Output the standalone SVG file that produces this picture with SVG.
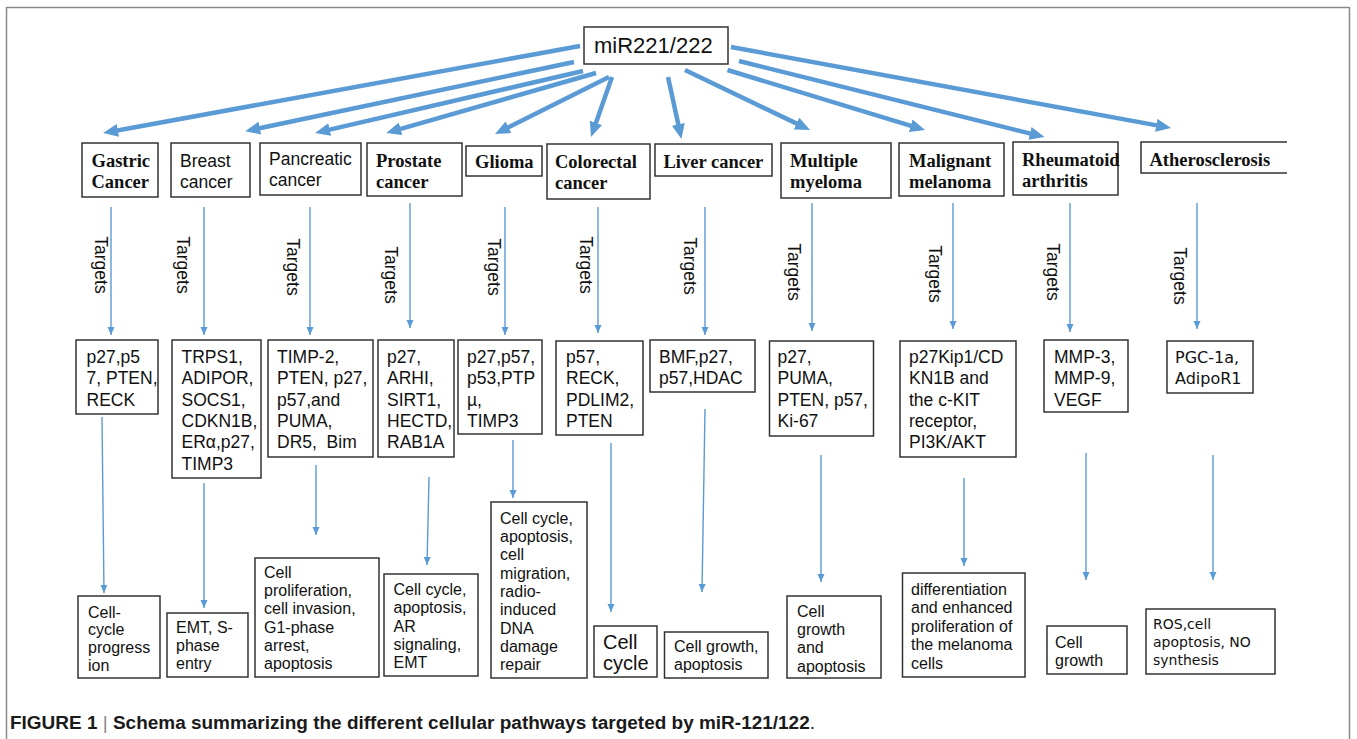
<svg xmlns="http://www.w3.org/2000/svg" width="1357" height="739" viewBox="0 0 1357 739">
<style>
.frame{fill:none;stroke:#8a8a8a;stroke-width:1.5}
.box{fill:#fff;stroke:#333;stroke-width:1.5}
.dis{font-family:"Liberation Serif",serif;font-weight:bold;font-size:18.5px;fill:#111}
.dsans{font-family:"Liberation Sans",Arial,sans-serif;font-size:17.5px;fill:#111}
.root{font-family:"Liberation Sans",Arial,sans-serif;font-size:22px;fill:#111}
.tg{font-family:"Liberation Sans",Arial,sans-serif;font-size:17.5px;fill:#111}
.out{font-family:"Liberation Sans",Arial,sans-serif;font-size:16px;fill:#111}
.big{font-family:"Liberation Sans",Arial,sans-serif;font-size:20px;fill:#111}
.dv{font-family:"DejaVu Sans",sans-serif;fill:#111}
.lbl{font-family:"Liberation Sans",Arial,sans-serif;font-size:17.5px;fill:#111}
.thick{stroke:#5b9bd5;stroke-width:4.5;fill:none;marker-end:url(#hb)}
.thin{stroke:#5b9bd5;stroke-width:1.4;fill:none;marker-end:url(#hs)}
.cap{font-family:"Liberation Sans",Arial,sans-serif;font-weight:bold;font-size:17.5px;fill:#1a1a1a}
</style>
<defs>
<marker id="hb" markerUnits="userSpaceOnUse" markerWidth="16" markerHeight="14" refX="9" refY="6.5" orient="auto">
<path d="M0,0 L15,6.5 L0,13 z" fill="#5b9bd5"/>
</marker>
<marker id="hs" markerUnits="userSpaceOnUse" markerWidth="9" markerHeight="8" refX="8" refY="3.5" orient="auto">
<path d="M0,0 L8,3.5 L0,7 z" fill="#5b9bd5"/>
</marker>
</defs>
<rect width="1357" height="739" fill="#fff"/>
<rect class="frame" x="6.5" y="7.5" width="1343" height="760"/>

<g id="connectors">
<line class="thick" x1="580" y1="46" x2="109" y2="132"/>
<line class="thick" x1="574" y1="62" x2="251" y2="130"/>
<line class="thick" x1="583" y1="71" x2="321" y2="131.6"/>
<line class="thick" x1="596" y1="73" x2="392" y2="131.3"/>
<line class="thick" x1="609" y1="77" x2="500.4" y2="131.3"/>
<line class="thick" x1="612" y1="77" x2="593" y2="131.3"/>
<line class="thick" x1="668" y1="77" x2="680.2" y2="133.1"/>
<line class="thick" x1="685" y1="70" x2="804.6" y2="127.4"/>
<line class="thick" x1="727.5" y1="70" x2="919.3" y2="128.3"/>
<line class="thick" x1="739" y1="61" x2="1038.7" y2="135.6"/>
<line class="thick" x1="731" y1="47" x2="1165.1" y2="126.9"/>

<line class="thin" x1="111" y1="207" x2="111" y2="335"/>
<line class="thin" x1="204" y1="207" x2="204" y2="335"/>
<line class="thin" x1="310" y1="207" x2="310" y2="335"/>
<line class="thin" x1="410" y1="203" x2="410" y2="328"/>
<line class="thin" x1="505" y1="207" x2="505" y2="335"/>
<line class="thin" x1="598" y1="207" x2="598" y2="333"/>
<line class="thin" x1="705" y1="207" x2="705" y2="335"/>
<line class="thin" x1="812" y1="203" x2="812" y2="331"/>
<line class="thin" x1="953" y1="203" x2="953" y2="329"/>
<line class="thin" x1="1070" y1="203" x2="1070" y2="332"/>
<line class="thin" x1="1197" y1="203" x2="1197" y2="329"/>

<line class="thin" x1="102" y1="417" x2="104" y2="593"/>
<line class="thin" x1="204" y1="483" x2="204" y2="608"/>
<line class="thin" x1="316" y1="465" x2="316" y2="535"/>
<line class="thin" x1="429" y1="477" x2="427" y2="565"/>
<line class="thin" x1="513" y1="440" x2="513" y2="498"/>
<line class="thin" x1="611" y1="443" x2="611" y2="612"/>
<line class="thin" x1="705" y1="409" x2="702" y2="592"/>
<line class="thin" x1="821" y1="455" x2="821" y2="582"/>
<line class="thin" x1="964" y1="478" x2="964" y2="566"/>
<line class="thin" x1="1086" y1="453" x2="1086" y2="580"/>
<line class="thin" x1="1213" y1="455" x2="1213" y2="580"/>

<text class="lbl" text-anchor="middle" dominant-baseline="central" transform="translate(101,265) rotate(90)">Targets</text>
<text class="lbl" text-anchor="middle" dominant-baseline="central" transform="translate(183,265) rotate(90)">Targets</text>
<text class="lbl" text-anchor="middle" dominant-baseline="central" transform="translate(293,267) rotate(90)">Targets</text>
<text class="lbl" text-anchor="middle" dominant-baseline="central" transform="translate(391,275) rotate(90)">Targets</text>
<text class="lbl" text-anchor="middle" dominant-baseline="central" transform="translate(494,267) rotate(90)">Targets</text>
<text class="lbl" text-anchor="middle" dominant-baseline="central" transform="translate(586,265) rotate(90)">Targets</text>
<text class="lbl" text-anchor="middle" dominant-baseline="central" transform="translate(690,266) rotate(90)">Targets</text>
<text class="lbl" text-anchor="middle" dominant-baseline="central" transform="translate(794,272) rotate(90)">Targets</text>
<text class="lbl" text-anchor="middle" dominant-baseline="central" transform="translate(935,274) rotate(90)">Targets</text>
<text class="lbl" text-anchor="middle" dominant-baseline="central" transform="translate(1053,272) rotate(90)">Targets</text>
<text class="lbl" text-anchor="middle" dominant-baseline="central" transform="translate(1180,276) rotate(90)">Targets</text>
</g>

<g id="root">
<rect class="box" x="584" y="27" width="144" height="37"/>
<text class="root" x="594" y="53">miR221/222</text>
</g>

<g id="d-gastric">
<rect class="box" x="82" y="143" width="76" height="54"/>
<text class="dis" x="91.5" y="167">Gastric</text>
<text class="dis" x="91.5" y="187.5">Cancer</text>
</g>
<g id="d-breast">
<rect class="box" x="171" y="143" width="79" height="54"/>
<text class="dsans" x="180" y="167">Breast</text>
<text class="dsans" x="180" y="187.5">cancer</text>
</g>
<g id="d-pancreatic">
<rect class="box" x="260" y="143" width="101" height="52"/>
<text class="dsans" x="269" y="165">Pancreatic</text>
<text class="dsans" x="269" y="186">cancer</text>
</g>
<g id="d-prostate">
<rect class="box" x="367" y="143" width="95" height="53"/>
<text class="dis" x="376" y="167">Prostate</text>
<text class="dis" x="376" y="187.5">cancer</text>
</g>
<g id="d-glioma">
<rect class="box" x="466" y="146" width="76" height="30"/>
<text class="dis" x="475" y="168">Glioma</text>
</g>
<g id="d-colorectal">
<rect class="box" x="547" y="144" width="103" height="55"/>
<text class="dis" x="555" y="168">Colorectal</text>
<text class="dis" x="555" y="188.5">cancer</text>
</g>
<g id="d-liver">
<rect class="box" x="655" y="144" width="117" height="32"/>
<text class="dis" x="663.5" y="168">Liver cancer</text>
</g>
<g id="d-myeloma">
<rect class="box" x="781" y="143" width="110" height="55"/>
<text class="dis" x="790" y="166.5">Multiple</text>
<text class="dis" x="790" y="188">myeloma</text>
</g>
<g id="d-melanoma">
<rect class="box" x="899" y="143" width="105" height="53"/>
<text class="dis" x="909" y="167">Malignant</text>
<text class="dis" x="909" y="188">melanoma</text>
</g>
<g id="d-rheumatoid">
<rect class="box" x="1013" y="142" width="105" height="53"/>
<text class="dis" x="1022" y="165.5">Rheumatoid</text>
<text class="dis" x="1022" y="186.5">arthritis</text>
</g>
<g id="d-athero">
<path class="box" d="M1287,142 H1141 V173 H1287" fill="none"/>
<text class="dis" x="1149.5" y="165.5">Atherosclerosis</text>
</g>

<g id="t-gastric">
<rect class="box" x="76" y="340" width="82" height="74"/>
<text class="tg" x="86.5" y="363">p27,p5</text>
<text class="tg" x="86.5" y="384.3">7, PTEN,</text>
<text class="tg" x="86.5" y="405.6">RECK</text>
</g>
<g id="t-breast">
<rect class="box" x="172" y="340" width="89" height="138"/>
<text class="tg" x="181.5" y="363">TRPS1,</text>
<text class="tg" x="181.5" y="384.3">ADIPOR,</text>
<text class="tg" x="181.5" y="405.6">SOCS1,</text>
<text class="tg" x="181.5" y="426.9">CDKN1B,</text>
<text class="tg" x="181.5" y="448.2">ERα,p27,</text>
<text class="tg" x="181.5" y="469.5">TIMP3</text>
</g>
<g id="t-pancreatic">
<rect class="box" x="268" y="340" width="105" height="117"/>
<text class="tg" x="277" y="363">TIMP-2,</text>
<text class="tg" x="277" y="384.3">PTEN, p27,</text>
<text class="tg" x="277" y="405.6">p57,and</text>
<text class="tg" x="277" y="426.9">PUMA,</text>
<text class="tg" x="277" y="448.2" xml:space="preserve">DR5,  Bim</text>
</g>
<g id="t-prostate">
<rect class="box" x="378" y="340" width="76" height="117"/>
<text class="tg" x="387" y="363">p27,</text>
<text class="tg" x="387" y="384.3">ARHI,</text>
<text class="tg" x="387" y="405.6">SIRT1,</text>
<text class="tg" x="387" y="426.9">HECTD,</text>
<text class="tg" x="387" y="448.2">RAB1A</text>
</g>
<g id="t-glioma">
<rect class="box" x="458" y="340" width="84" height="94"/>
<text class="tg" x="467" y="363">p27,p57,</text>
<text class="tg" x="467" y="384.3">p53,PTP</text>
<text class="tg" x="467" y="405.6">µ,</text>
<text class="tg" x="467" y="426.9">TIMP3</text>
</g>
<g id="t-colorectal">
<rect class="box" x="556" y="341" width="87" height="94"/>
<text class="tg" x="566" y="363">p57,</text>
<text class="tg" x="566" y="384.3">RECK,</text>
<text class="tg" x="566" y="405.6">PDLIM2,</text>
<text class="tg" x="566" y="426.9">PTEN</text>
</g>
<g id="t-liver">
<rect class="box" x="650" y="340" width="105" height="52"/>
<text class="tg" x="659" y="362.5">BMF,p27,</text>
<text class="tg" x="659" y="383.8">p57,HDAC</text>
</g>
<g id="t-myeloma">
<rect class="box" x="769.5" y="341" width="104" height="95"/>
<text class="tg" x="777.5" y="363">p27,</text>
<text class="tg" x="777.5" y="384.3">PUMA,</text>
<text class="tg" x="777.5" y="405.6">PTEN, p57,</text>
<text class="tg" x="777.5" y="426.9">Ki-67</text>
</g>
<g id="t-melanoma">
<rect class="box" x="900" y="341" width="116" height="116"/>
<text class="tg" x="909" y="363">p27Kip1/CD</text>
<text class="tg" x="909" y="384.3">KN1B and</text>
<text class="tg" x="909" y="405.6">the c-KIT</text>
<text class="tg" x="909" y="426.9">receptor,</text>
<text class="tg" x="909" y="448.2">PI3K/AKT</text>
</g>
<g id="t-rheumatoid">
<rect class="box" x="1044" y="340" width="84" height="72"/>
<text class="tg" x="1054" y="363">MMP-3,</text>
<text class="tg" x="1054" y="384.3">MMP-9,</text>
<text class="tg" x="1054" y="405.6">VEGF</text>
</g>
<g id="t-athero">
<rect class="box" x="1167" y="341" width="86" height="52"/>
<text class="dv" font-size="16" x="1175" y="363">PGC-1a,</text>
<text class="dv" font-size="16" x="1175" y="384.3">AdipoR1</text>
</g>

<g id="o-gastric">
<rect class="box" x="78" y="596" width="82" height="82"/>
<text class="out" x="88" y="617.7">Cell-</text>
<text class="out" x="88" y="635.4">cycle</text>
<text class="out" x="88" y="653.1">progress</text>
<text class="out" x="88" y="670.8">ion</text>
</g>
<g id="o-breast">
<rect class="box" x="167" y="613" width="81" height="64"/>
<text class="out" x="176" y="632.7">EMT, S-</text>
<text class="out" x="176" y="650.7">phase</text>
<text class="out" x="176" y="668.7">entry</text>
</g>
<g id="o-pancreatic">
<rect class="box" x="255" y="558" width="124" height="119"/>
<text class="out" x="264" y="577.7">Cell</text>
<text class="out" x="264" y="596">proliferation,</text>
<text class="out" x="264" y="614.3">cell invasion,</text>
<text class="out" x="264" y="632.6">G1-phase</text>
<text class="out" x="264" y="650.9">arrest,</text>
<text class="out" x="264" y="669.2">apoptosis</text>
</g>
<g id="o-prostate">
<rect class="box" x="384" y="574" width="94" height="102"/>
<text class="out" x="393.5" y="595">Cell cycle,</text>
<text class="out" x="393.5" y="613.3">apoptosis,</text>
<text class="out" x="393.5" y="631.6">AR</text>
<text class="out" x="393.5" y="649.9">signaling,</text>
<text class="out" x="393.5" y="668.2">EMT</text>
</g>
<g id="o-glioma">
<rect class="box" x="491" y="502" width="96" height="176"/>
<text class="out" x="500" y="523.7">Cell cycle,</text>
<text class="out" x="500" y="542">apoptosis,</text>
<text class="out" x="500" y="560.3">cell</text>
<text class="out" x="500" y="578.6">migration,</text>
<text class="out" x="500" y="596.9">radio-</text>
<text class="out" x="500" y="615.2">induced</text>
<text class="out" x="500" y="633.5">DNA</text>
<text class="out" x="500" y="651.8">damage</text>
<text class="out" x="500" y="670.1">repair</text>
</g>
<g id="o-colorectal">
<rect class="box" x="594" y="626" width="63" height="51"/>
<text class="big" x="603" y="648.7">Cell</text>
<text class="big" x="603" y="669.7">cycle</text>
</g>
<g id="o-liver">
<rect class="box" x="664.5" y="632" width="103.5" height="46"/>
<text class="out" x="674" y="652">Cell growth,</text>
<text class="out" x="674" y="670">apoptosis</text>
</g>
<g id="o-myeloma">
<rect class="box" x="787" y="596" width="94" height="82"/>
<text class="out" x="797" y="616.7">Cell</text>
<text class="out" x="797" y="635">growth</text>
<text class="out" x="797" y="653.3">and</text>
<text class="out" x="797" y="671.6">apoptosis</text>
</g>
<g id="o-melanoma">
<rect class="box" x="902.5" y="573" width="122.5" height="104"/>
<text class="out" x="911" y="595">differentiation</text>
<text class="out" x="911" y="613.4">and enhanced</text>
<text class="out" x="911" y="631.8">proliferation of</text>
<text class="out" x="911" y="650.2">the melanoma</text>
<text class="out" x="911" y="668.6">cells</text>
</g>
<g id="o-rheumatoid">
<rect class="box" x="1047" y="626" width="80" height="48"/>
<text class="out" x="1055" y="647.7">Cell</text>
<text class="out" x="1055" y="666">growth</text>
</g>
<g id="o-athero">
<rect class="box" x="1146" y="609" width="129" height="65"/>
<text class="dv" font-size="14" x="1153" y="629">ROS,cell</text>
<text class="dv" font-size="14" x="1153" y="647">apoptosis, NO</text>
<text class="dv" font-size="14" x="1153" y="665">synthesis</text>
</g>

<g id="caption">
<text class="cap" x="10" y="729" textLength="805" lengthAdjust="spacingAndGlyphs">FIGURE 1 <tspan font-weight="normal" fill="#888">|</tspan> Schema summarizing the different cellular pathways targeted by miR-121/122<tspan font-weight="normal">.</tspan></text>
</g>
</svg>
